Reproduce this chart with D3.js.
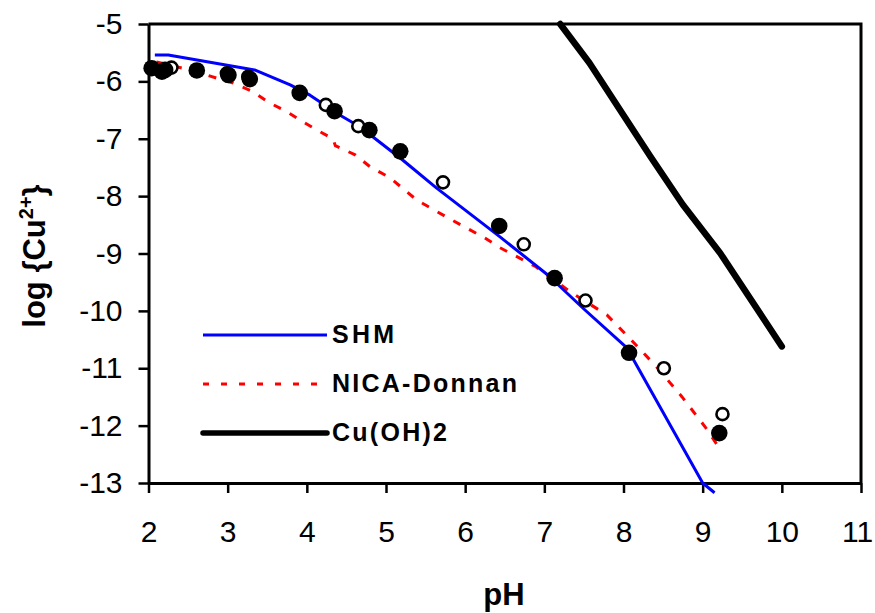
<!DOCTYPE html>
<html>
<head>
<meta charset="utf-8">
<script src="https://cdn.jsdelivr.net/npm/d3@7"></script>
<style>
  html, body { margin: 0; padding: 0; background: #fff; }
  svg { display: block; font-family: Arial, "Liberation Sans", sans-serif; }
</style>
</head>
<body>
<svg id="chart" width="875" height="613"></svg>
<script>
// Axis ticks
const xTicks = [2, 3, 4, 5, 6, 7, 8, 9, 10, 11];
const yTicks = [-5, -6, -7, -8, -9, -10, -11, -12, -13];

// Measured free copper activity, two sample sets
const filledPH  = [2.04, 2.17, 2.21, 2.61, 3.01, 3.28, 3.91, 4.35, 4.79, 5.18, 6.43, 7.13, 8.07, 9.21];
const filledLog = [-5.77, -5.83, -5.80, -5.81, -5.89, -5.96, -6.20, -6.52, -6.85, -7.22, -8.52, -9.43, -10.73, -12.13];
const openPH    = [2.29, 2.99, 3.26, 4.24, 4.65, 5.72, 6.74, 7.52, 8.51, 9.25];
const openLog   = [-5.76, -5.86, -5.92, -6.41, -6.78, -7.76, -8.84, -9.82, -11.00, -11.80];

// SHM model curve
const shmPH  = [2.08, 2.25, 3.34, 3.79, 4.04, 4.42, 4.67, 5.21, 5.64, 6.44, 7.04, 7.51, 8.04, 9.00, 9.15];
const shmLog = [-5.54, -5.54, -5.80, -6.06, -6.24, -6.59, -6.79, -7.37, -7.86, -8.71, -9.37, -9.98, -10.64, -13.00, -13.17];

// NICA-Donnan model curve
const nicaPH  = [2.10, 2.52, 3.07, 3.32, 3.51, 3.75, 3.91, 4.13, 4.33, 4.36, 4.61, 4.80, 5.05, 5.39, 5.81, 6.25, 6.44, 6.88, 7.35, 7.79, 8.10, 8.42, 8.74, 9.03, 9.18];
const nicaLog = [-5.66, -5.80, -6.03, -6.18, -6.36, -6.53, -6.67, -6.85, -7.00, -7.12, -7.28, -7.49, -7.68, -8.07, -8.40, -8.73, -8.90, -9.22, -9.69, -10.07, -10.51, -10.98, -11.50, -12.02, -12.33];

// Cu(OH)2 solubility line
const cuohPH  = [7.20, 7.57, 8.00, 8.34, 8.75, 9.22, 10.00];
const cuohLog = [-5.00, -5.68, -6.59, -7.31, -8.15, -8.99, -10.62];

// Legend entries
const legendNames = ["SHM", "NICA-Donnan", "Cu(OH)2"];

const svg = d3.select("#chart");
const plotL = 148.5, plotR = 861, plotT = 24, plotB = 483;

const x = d3.scaleLinear().domain([2, 11]).range([plotL, plotR]);
const y = d3.scaleLinear().domain([-13, -5]).range([plotB, plotT]);

const zip = (a, b) => a.map((v, i) => [v, b[i]]);
const line = d3.line().x(d => x(d[0])).y(d => y(d[1]));

// Frame (top and right edges)
svg.append("path")
  .attr("d", `M${plotL},${plotT}H${plotR}V${plotB}`)
  .attr("fill", "none").attr("stroke", "#000").attr("stroke-width", 3);

// X axis
const gx = svg.append("g")
  .attr("transform", `translate(0,${plotB})`)
  .call(d3.axisBottom(x).tickValues(xTicks).tickSize(10).tickSizeOuter(0).tickFormat(d3.format("d")));
gx.select(".domain").attr("stroke-width", 3);
gx.selectAll(".tick line").attr("stroke-width", 2.5);
gx.selectAll(".tick text")
  .attr("y", 59).attr("dy", 0)
  .attr("font-size", 30).attr("font-family", "Arial, 'Liberation Sans', sans-serif").attr("fill", "#000")
  // keep the right-most label inside the page edge
  .attr("x", d => d === xTicks[xTicks.length - 1] ? -4 : 0);

// Y axis
const gy = svg.append("g")
  .attr("transform", `translate(${plotL},0)`)
  .call(d3.axisLeft(y).tickValues(yTicks).tickSize(10).tickSizeOuter(0).tickFormat(d => String(d)));
gy.select(".domain").attr("stroke-width", 3);
gy.selectAll(".tick line").attr("stroke-width", 2.5);
gy.selectAll(".tick text")
  .attr("x", -26)
  .attr("font-size", 30).attr("font-family", "Arial, 'Liberation Sans', sans-serif").attr("fill", "#000");

// Model curves
svg.append("path").datum(zip(cuohPH, cuohLog))
  .attr("d", line).attr("fill", "none").attr("stroke", "#000").attr("stroke-width", 6.5)
  .attr("stroke-linejoin", "round").attr("stroke-linecap", "round");

svg.append("path").datum(zip(nicaPH, nicaLog))
  .attr("d", line).attr("fill", "none").attr("stroke", "#ff0000").attr("stroke-width", 3)
  .attr("stroke-dasharray", "8,10");

svg.append("path").datum(zip(shmPH, shmLog))
  .attr("d", line).attr("fill", "none").attr("stroke", "#0000ff").attr("stroke-width", 3)
  .attr("stroke-linejoin", "round");

// Data points
svg.append("g").selectAll("circle").data(zip(openPH, openLog)).join("circle")
  .attr("cx", d => x(d[0])).attr("cy", d => y(d[1])).attr("r", 6)
  .attr("fill", "#fff").attr("stroke", "#000").attr("stroke-width", 2.6);

svg.append("g").selectAll("circle").data(zip(filledPH, filledLog)).join("circle")
  .attr("cx", d => x(d[0])).attr("cy", d => y(d[1])).attr("r", 8.3)
  .attr("fill", "#000");

// Legend
const legendStyles = [
  { stroke: "#0000ff", width: 3, dash: null, len: 62 },
  { stroke: "#ff0000", width: 3, dash: "6,12", len: 185 },
  { stroke: "#000", width: 5.5, dash: null, len: 115 }
];
const lg = svg.append("g");
legendNames.forEach((name, i) => {
  const s = legendStyles[i];
  const ly = 335 + i * 49;
  lg.append("line")
    .attr("x1", 203).attr("x2", 327).attr("y1", ly).attr("y2", ly)
    .attr("stroke", s.stroke).attr("stroke-width", s.width)
    .attr("stroke-dasharray", s.dash)
    .attr("stroke-linecap", i === 2 ? "round" : "butt");
  lg.append("text")
    .attr("x", 332).attr("y", ly + 8)
    .attr("font-size", 25).attr("font-weight", "bold")
    .attr("textLength", s.len).attr("lengthAdjust", "spacing")
    .text(name);
});

// Axis titles
svg.append("text")
  .attr("x", 504).attr("y", 605)
  .attr("text-anchor", "middle")
  .attr("font-size", 31).attr("font-weight", "bold")
  .text("pH");

const yt = svg.append("text")
  .attr("transform", "translate(45,256) rotate(-90)")
  .attr("text-anchor", "middle")
  .attr("font-size", 31).attr("font-weight", "bold");
yt.append("tspan").text("log {Cu");
yt.append("tspan").attr("dy", -12).attr("font-size", 20).text("2+");
yt.append("tspan").attr("dy", 12).text("}");
</script>
</body>
</html>
